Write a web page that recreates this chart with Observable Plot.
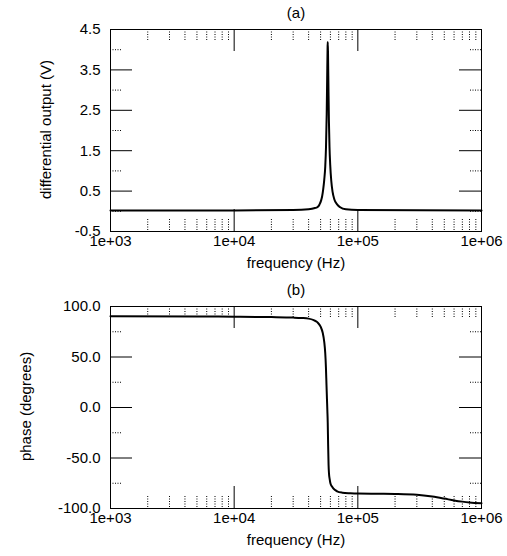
<!DOCTYPE html>
<html><head><meta charset="utf-8">
<script src="https://cdn.jsdelivr.net/npm/d3@7"></script>
<script src="https://cdn.jsdelivr.net/npm/@observablehq/plot@0.6"></script>
<style>body{margin:0;background:#fff}#chart svg{display:block}</style>
</head><body><div id="chart"></div>
<script>
// ---- data ----
const ampFreq = [1000, 10000, 30000, 40000, 45000, 47000, 49000, 50500, 51500, 52500, 53500, 54500, 55300, 56000, 56500, 56900, 57100, 57400, 57900, 58400, 59000, 59800, 61000, 62500, 64500, 68000, 72000, 80000, 100000, 1000000];
const ampVolts = [0.02, 0.02, 0.03, 0.05, 0.08, 0.10, 0.17, 0.27, 0.38, 0.55, 0.78, 1.1, 1.6, 2.4, 3.3, 4.0, 4.19, 3.9, 3.0, 2.2, 1.6, 1.15, 0.75, 0.48, 0.30, 0.17, 0.10, 0.05, 0.03, 0.02];
const phaseFreq = [1000, 5000, 10000, 20000, 30000, 35000, 40000, 44000, 47000, 50000, 52000, 53500, 54500, 55200, 55800, 56300, 56700, 57100, 57500, 58000, 58500, 59200, 60000, 62000, 65000, 68000, 75000, 87000, 100000, 150000, 200000, 300000, 400000, 500000, 600000, 700000, 800000, 1000000];
const phaseDeg = [90.3, 90.1, 89.9, 89.5, 89.0, 88.6, 88.0, 86.5, 84.5, 80, 74, 65, 54, 40, 22, 8, -3, -15, -36, -57, -66, -71, -75, -78.5, -81.5, -83, -84.3, -84.9, -85.2, -85.4, -85.6, -86.4, -88.2, -90.2, -92, -93.2, -94, -94.8];
const xTickValues = [1000, 10000, 100000, 1000000];
const xTickLabels = ["1e+03", "1e+04", "1e+05", "1e+06"];
const xMajorInner = [10000, 100000];
const xMinorTicks = [2000, 3000, 4000, 5000, 6000, 7000, 8000, 9000, 20000, 30000, 40000, 50000, 60000, 70000, 80000, 90000, 200000, 300000, 400000, 500000, 600000, 700000, 800000, 900000];
const ampMajorTicks = [-0.5, 0.5, 1.5, 2.5, 3.5, 4.5];
const ampMinorTicks = [0, 1, 2, 3, 4];
const phaseMajorTicks = [-100, -50, 0, 50, 100];
const phaseMinorTicks = [-75, -25, 25, 75];

const W = 507, H = 278, ML = 110, MR = 26;
const FONT = "'Liberation Sans', Arial, Helvetica, sans-serif";

function panel({title, ylabel, ylabelDx, freq, vals, yDomain, yMajor, yMinor, mt, mb}) {
  const fh = H - mt - mb, fw = W - ML - MR;
  const data = freq.map((f, i) => ({f, v: vals[i]}));
  const yInner = yMajor.slice(1, -1);
  return Plot.plot({
    width: W, height: H, marginLeft: ML, marginRight: MR, marginTop: mt, marginBottom: mb,
    style: {fontFamily: FONT, fontSize: "15px", background: "#fff", color: "#000", overflow: "visible"},
    x: {type: "log", domain: [1000, 1000000]},
    y: {domain: yDomain},
    marks: [
      // minor ticks (dotted), inward on all sides
      Plot.tickX(xMinorTicks, {x: d => d, insetBottom: fh - 11, stroke: "#000", strokeDasharray: "1,1.5"}),
      Plot.tickX(xMinorTicks, {x: d => d, insetTop: fh - 12, stroke: "#000", strokeDasharray: "1,1.5"}),
      Plot.tickY(yMinor, {y: d => d, insetRight: fw - 12, stroke: "#000", strokeDasharray: "1,1.5"}),
      Plot.tickY(yMinor, {y: d => d, insetLeft: fw - 11, stroke: "#000", strokeDasharray: "1,1.5"}),
      // major ticks
      Plot.tickX(xMajorInner, {x: d => d, insetBottom: fh - 22, stroke: "#000"}),
      Plot.tickX(xMajorInner, {x: d => d, insetTop: fh - 22, stroke: "#000"}),
      Plot.tickY(yInner, {y: d => d, insetRight: fw - 22, stroke: "#000"}),
      Plot.tickY(yInner, {y: d => d, insetLeft: fw - 22, stroke: "#000"}),
      Plot.axisX(xTickValues, {anchor: "bottom", tickSize: 0, tickPadding: 4, label: null,
        tickFormat: d => xTickLabels[xTickValues.indexOf(d)]}),
      Plot.axisY(yMajor, {anchor: "left", tickSize: 0, tickPadding: 10, label: null,
        tickFormat: d => d.toFixed(1)}),
      Plot.line(data, {x: "f", y: "v", stroke: "#000", strokeWidth: 2, curve: "monotone-x"}),
      Plot.frame({stroke: "#000", strokeWidth: 1}),
      Plot.text([title], {frameAnchor: "top", dy: -16, lineAnchor: "middle", textAnchor: "middle"}),
      Plot.text(["frequency (Hz)"], {frameAnchor: "bottom", dy: 32, lineAnchor: "middle", textAnchor: "middle"}),
      Plot.text([ylabel], {frameAnchor: "left", dx: ylabelDx, dy: -1, rotate: -90, lineAnchor: "middle", textAnchor: "middle"})
    ]
  });
}

const root = document.getElementById("chart");
root.append(panel({title: "(a)", ylabel: "differential output (V)", ylabelDx: -64.5,
  freq: ampFreq, vals: ampVolts, yDomain: [-0.5, 4.5], yMajor: ampMajorTicks, yMinor: ampMinorTicks, mt: 29, mb: 47}));
root.append(panel({title: "(b)", ylabel: "phase (degrees)", ylabelDx: -84.5,
  freq: phaseFreq, vals: phaseDeg, yDomain: [-100, 100], yMajor: phaseMajorTicks, yMinor: phaseMinorTicks, mt: 28, mb: 48}));
</script>
</body></html>
